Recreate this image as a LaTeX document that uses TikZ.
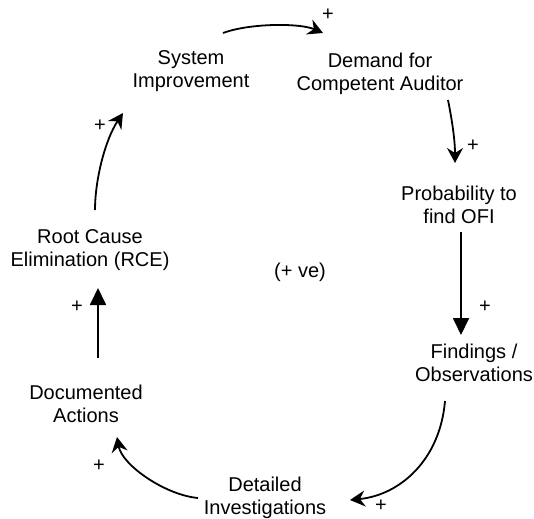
\documentclass[tikz,border=0pt]{standalone}
\usepackage{fontspec}
\setmainfont{Liberation Sans}
\usetikzlibrary{arrows.meta,calc}
\begin{document}
\begin{tikzpicture}[x=1pt,y=-1pt,
  var/.style={align=center,inner sep=0pt,font=\fontsize{20}{22.5}\selectfont},
  sign/.style={inner sep=0pt,font=\fontsize{20}{22}\selectfont},
  link/.style={line width=1.8pt,-{Stealth[length=15pt,width=16pt,inset=5pt]}},
  straightlink/.style={line width=1.8pt,-{Triangle[length=17pt,width=16pt]}}]
\useasboundingbox (0,0) rectangle (534,518);

% loop variables
\node[var] (sys) at (191,71) {System\\Improvement};
\node[var] (dem) at (380,74) {Demand for\\Competent Auditor};
\node[var] (prob) at (459,205) {Probability to\\find OFI};
\node[var] (find) at (474,363) {Findings /\\Observations};
\node[var] (det) at (265,498) {Detailed\\Investigations};
\node[var] (doc) at (86,404) {Documented\\Actions};
\node[var] (rce) at (90,250) {Root Cause\\Elimination (RCE)};
\node[var] (loop) at (300,272) {(+ ve)};

% connector end points around the variables
\coordinate (s1) at ($(sys)+(32,-38)$);
\coordinate (d1) at ($(dem)+(-57,-41)$);
\coordinate (d2) at ($(dem)+(68,26)$);
\coordinate (p1) at ($(prob)+(-4,-42)$);
\coordinate (p2) at ($(prob)+(2,27)$);
\coordinate (f1) at ($(find)+(-13,-28)$);
\coordinate (f2) at ($(find)+(-29,38)$);
\coordinate (t1) at ($(det)+(85,2)$);
\coordinate (t2) at ($(det)+(-67,0)$);
\coordinate (o1) at ($(doc)+(31,33)$);
\coordinate (o2) at ($(doc)+(12,-46)$);
\coordinate (r1) at ($(rce)+(8,38)$);
\coordinate (r2) at ($(rce)+(5,-40)$);
\coordinate (y1) at ($(sys)+(-68,42)$);

% causal links
\draw[link] (s1) .. controls (250,23) and (300,23) .. (d1);
\draw[link] (d2) .. controls (452,120) and (455,140) .. (p1);
\draw[straightlink] (p2) -- (f1);
\draw[link] (f2) .. controls (440,460) and (400,495) .. (t1);
\draw[link] (t2) .. controls (165,495) and (122,465) .. (o1);
\draw[straightlink] (o2) -- (r1);
\draw[link] (r2) .. controls (95,180) and (105,140) .. (y1);

% polarities
\node[sign] (ps) at (328,15) {+};
\node[sign] (pd) at (473,146) {+};
\node[sign] (pp) at (485,307) {+};
\node[sign] (pf) at (381,506) {+};
\node[sign] (pt) at (99,466) {+};
\node[sign] (po) at (77,307) {+};
\node[sign] (pr) at (100,126) {+};
\end{tikzpicture}
\end{document}
